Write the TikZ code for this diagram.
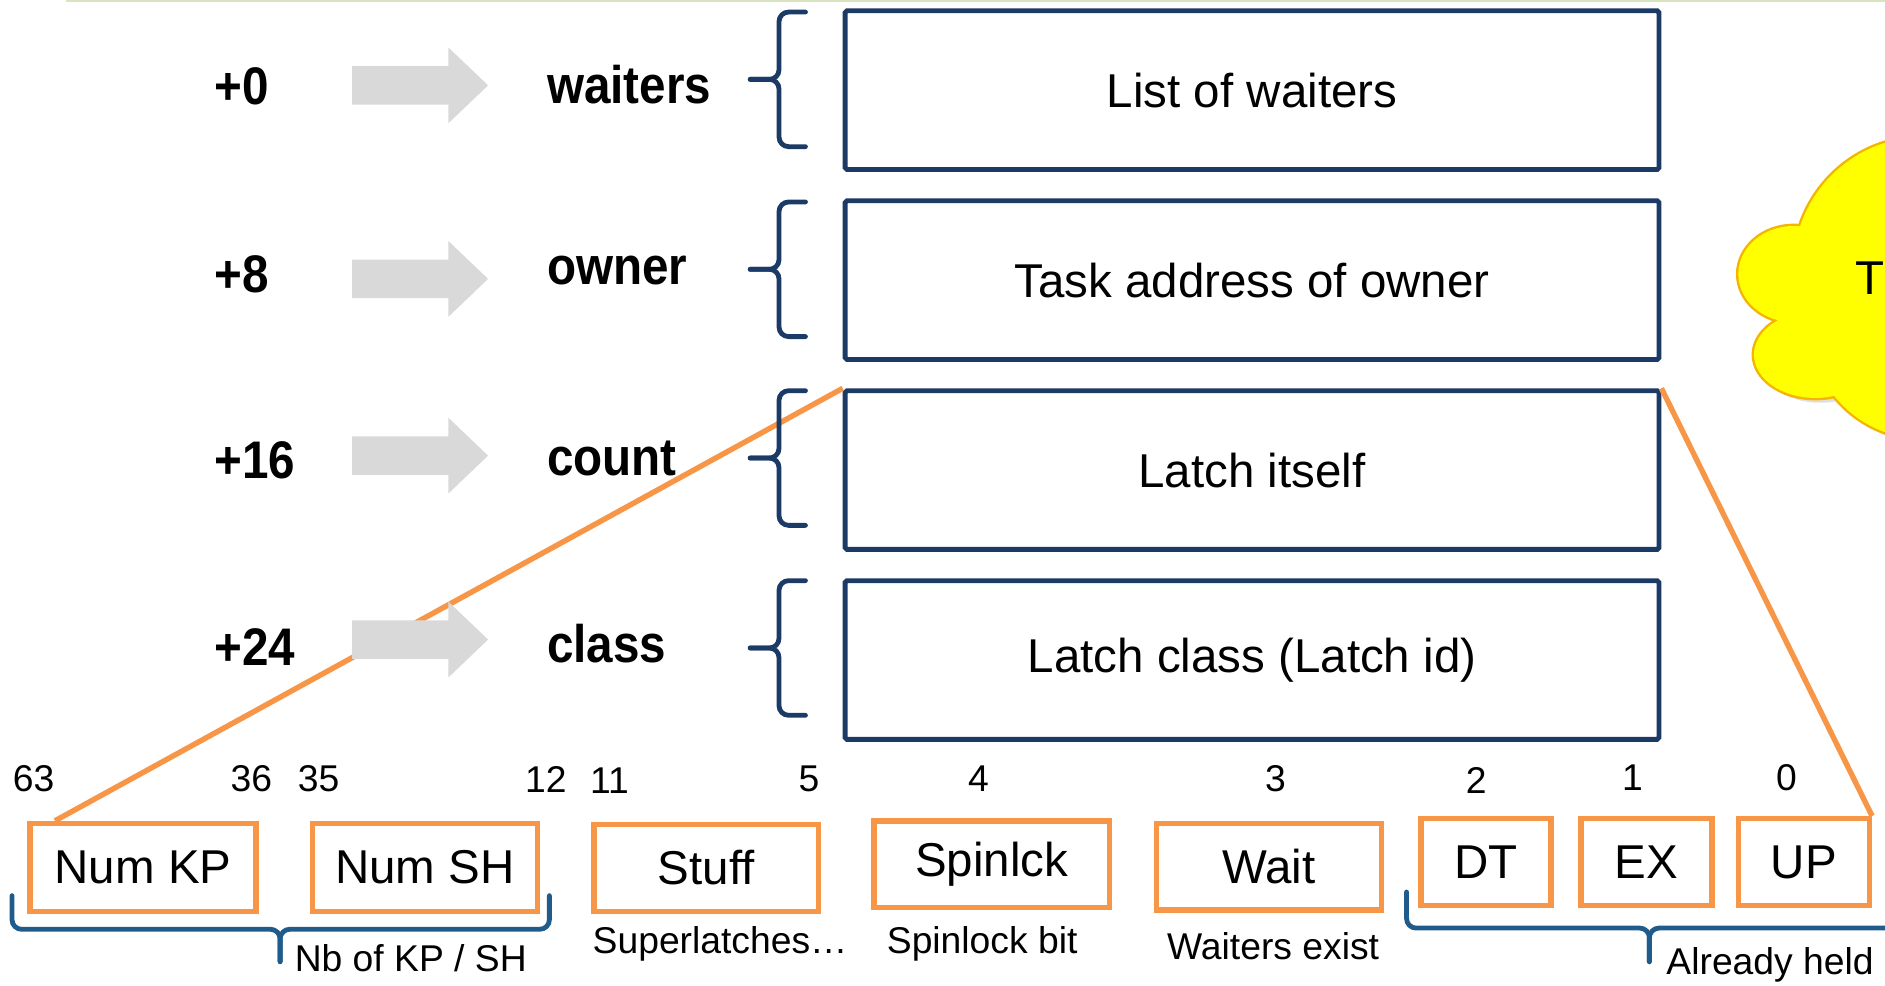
\documentclass[tikz,border=0pt]{standalone}
\usepackage{fontspec}
\setmainfont{Liberation Sans}
\newfontfamily\bnfont[FakeStretch=0.9]{Liberation Sans Bold}
\usetikzlibrary{calc}
\definecolor{navy}{HTML}{1B3A66}
\definecolor{steel}{HTML}{1F5C8C}
\definecolor{org}{HTML}{F79646}
\definecolor{agray}{HTML}{D9D9D9}
\definecolor{cloudy}{HTML}{FFFF00}
\definecolor{cloudo}{HTML}{F5B400}
\definecolor{topline}{HTML}{D7E4BD}
\tikzset{
  field/.style={draw=navy, line width=4pt, minimum width=677pt, minimum height=132pt, inner sep=0pt, rounded corners=1.5pt, font=\fontsize{39.5}{47}\selectfont},
  bitbox/.style={draw=org, line width=4.5pt, minimum height=73pt, inner sep=0pt, font=\fontsize{39.5}{47}\selectfont},
  lbl/.style={anchor=west, inner sep=0pt, font=\bnfont\fontsize{44}{52}\selectfont},
  small/.style={inner sep=0pt, font=\fontsize{31}{37}\selectfont},
  orgline/.style={draw=org, line width=4.5pt},
  bracepath/.style={draw=navy, line width=4pt, rounded corners=8pt, line cap=round},
  hbrace/.style={draw=steel, line width=4pt, rounded corners=8pt, line cap=round},
  garrow/.pic={\fill[agray] (0,-16) -- (80,-16) -- (80,-31.5) -- (113,0) -- (80,31.5) -- (80,16) -- (0,16) -- cycle;},
  lbrace/.pic={\draw[bracepath] (46,-56) -- (24,-56) -- (24,0) -- (0,0);
               \draw[bracepath] (0,0) -- (24,0) -- (24,56) -- (46,56);}
}
\begin{document}
\begin{tikzpicture}[x=1pt,y=-1pt]
\useasboundingbox (0,0) rectangle (1568,820);
% top rule
\draw[topline, line width=2pt] (55,1) -- (1568,1);
% cloud
\begin{scope}
\clip (0,0) rectangle (1568,820);
\fill[black!12] (1604,226) circle[radius=108pt] (1496,232) ellipse[x radius=46pt, y radius=40pt]
  (1514,299) ellipse[x radius=51pt, y radius=36pt] (1604,274) circle[radius=95pt];
\draw[cloudo, line width=4pt] (1600,222) circle[radius=108pt] (1492,228) ellipse[x radius=46pt, y radius=40pt]
  (1510,295) ellipse[x radius=51pt, y radius=36pt] (1600,270) circle[radius=95pt];
\fill[cloudy] (1600,222) circle[radius=108pt] (1492,228) ellipse[x radius=46pt, y radius=40pt]
  (1510,295) ellipse[x radius=51pt, y radius=36pt] (1600,270) circle[radius=95pt];
\node[anchor=west, inner sep=0pt, font=\fontsize{39.5}{47}\selectfont] (cloudtext) at (1543,231) {T};
\end{scope}
% field boxes
\node[field] (f1) at (1041.5,75) {List of waiters};
\node[field] (f2) at (1041.5,233) {Task address of owner};
\node[field] (f3) at (1041.5,391) {Latch itself};
\node[field] (f4) at (1041.5,549) {Latch class (Latch id)};
% bit boxes
\node[bitbox, minimum width=188pt] (kp) at (119,721.5) {Num KP};
\node[bitbox, minimum width=187pt] (sh) at (353.5,721.5) {Num SH};
\node[bitbox, minimum width=187pt, minimum height=72pt] (stuff) at (587.5,722) {Stuff};
\node[bitbox, minimum width=196pt, minimum height=72pt] (spin) at (825,719) {Spinlck};
\node[bitbox, minimum width=187pt, minimum height=72pt] (wait) at (1055.5,721) {Wait};
\node[bitbox, minimum width=108pt, minimum height=72pt] (dt) at (1236,717) {DT};
\node[bitbox, minimum width=109pt, minimum height=72pt] (ex) at (1369.5,717) {EX};
\node[bitbox, minimum width=109pt, minimum height=72pt] (up) at (1500.5,717) {UP};
% zoom lines
\draw[orgline] (f3.north west) -- ($(kp.north west)+(23,0)$);
\draw[orgline] (f3.north east) -- (up.north east);
% offset labels and arrows
\node[lbl] (o0) at (178,72) {+0};
\node[lbl] (o8) at (178,228) {+8};
\node[lbl] (o16) at (178,383) {+16};
\node[lbl] (o24) at (178,538) {+24};
\pic at (293,71) {garrow};
\pic at (293,232) {garrow};
\pic at (293,379) {garrow};
\pic at (293,532) {garrow};
\node[lbl] (nw) at (455,70) {waiters};
\node[lbl] (no) at (455,225) {owner};
\node[lbl] (nc) at (455,381) {count};
\node[lbl] (ncl) at (455,535) {class};
% braces
\pic at (624,66) {lbrace};
\pic at (624,224) {lbrace};
\pic at (624,381) {lbrace};
\pic at (624,539) {lbrace};
% bit numbers
\node[small] (b63) at (28,648) {63};
\node[small] (b36) at (209,648) {36};
\node[small] (b35) at (265,648) {35};
\node[small] (b12) at (454,648) {12};
\node[small] (b11) at (507,649) {11};
\node[small] (b5) at (673,648) {5};
\node[small] (b4) at (814,648) {4};
\node[small] (b3) at (1061,648) {3};
\node[small] (b2) at (1228,649) {2};
\node[small] (b1) at (1358,647) {1};
\node[small] (b0) at (1486,647) {0};
% bottom braces
\draw[hbrace] (10,745) -- (10,773) -- (233,773) -- (233,800);
\draw[hbrace] (233,800) -- (233,773) -- (457,773) -- (457,745);
\draw[hbrace] (1170,742) -- (1170,772) -- (1372,772) -- (1372,800);
\draw[hbrace] (1372,800) -- (1372,772) -- (1600,772);
% descriptions
\node[small, anchor=west] (dkp) at (245,797) {Nb of KP / SH};
\node[small] (dstuff) at (599,785) {Superlatches…};
\node[small] (dspin) at (817,785) {Spinlock bit};
\node[small] (dwait) at (1059,787) {Waiters exist};
\node[small, anchor=west] (dheld) at (1386,803) {Already held};
\end{tikzpicture}
\end{document}
